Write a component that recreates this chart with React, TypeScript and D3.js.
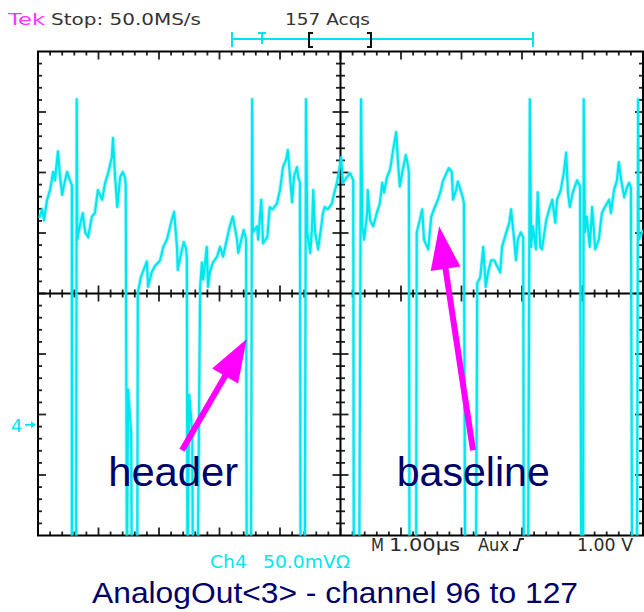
import React from 'react';
import * as d3 from 'd3';

// ---------- data ----------
// Horizontal: 1.00 µs/div, 10 divisions. Vertical: Ch4 50.0 mV/div, 8 divisions.
const timeDivisions = 10;
const voltDivisions = 8;
const mvPerDiv = 50;
const groundDiv = -2.17; // Ch4 ground marker, divisions below screen centre

// Ch4 trace: [time µs from left edge, mV above Ch4 ground]
const tracePoints: [number, number][] = [
  [0.02, 171], [0.07, 178], [0.10, 169], [0.15, 186], [0.20, 194], [0.25, 209], [0.28, 202],
  [0.33, 226], [0.36, 207], [0.40, 190], [0.43, 198], [0.48, 209], [0.53, 202], [0.56, 198],
  [0.56, -120], [0.63, -120], [0.64, 269], [0.65, 153],
  [0.69, 164], [0.74, 175], [0.78, 159], [0.83, 155], [0.89, 172], [0.94, 175], [0.99, 194],
  [1.06, 186], [1.11, 200], [1.16, 208], [1.22, 221], [1.24, 237], [1.27, 208], [1.31, 180],
  [1.36, 205], [1.40, 209], [1.44, 204], [1.45, 197],
  [1.47, -120], [1.49, 29], [1.54, -7], [1.55, -120], [1.64, -120], [1.65, 109],
  [1.70, 122], [1.80, 135], [1.82, 114], [1.88, 126], [1.93, 131], [2.02, 136], [2.07, 147],
  [2.13, 153], [2.17, 161], [2.21, 169], [2.25, 176], [2.30, 145], [2.31, 128], [2.38, 145],
  [2.41, 151], [2.45, 145], [2.46, 136],
  [2.47, -120], [2.50, 25], [2.55, -7], [2.56, -120], [2.64, -120], [2.68, 114],
  [2.71, 134], [2.73, 120], [2.79, 147], [2.81, 114], [2.84, 126], [2.89, 134], [2.96, 139],
  [3.01, 147], [3.06, 139], [3.12, 153], [3.17, 164], [3.22, 172], [3.29, 153], [3.31, 142],
  [3.37, 155], [3.40, 161], [3.44, 153],
  [3.45, -120], [3.52, -120], [3.54, 269], [3.55, 159],
  [3.62, 164], [3.64, 153], [3.69, 186], [3.72, 150], [3.79, 155], [3.83, 180], [3.88, 178],
  [3.95, 183], [4.00, 194], [4.05, 213], [4.10, 219], [4.13, 227], [4.17, 202], [4.20, 184],
  [4.23, 205], [4.28, 213], [4.30, 205], [4.33, 200],
  [4.34, -120], [4.41, -120], [4.43, 269], [4.45, 159],
  [4.50, 142], [4.53, 164], [4.55, 194], [4.58, 159], [4.63, 145], [4.69, 167], [4.71, 175],
  [4.74, 180], [4.79, 178], [4.86, 183], [4.88, 188], [4.94, 200], [4.98, 211], [5.01, 221],
  [5.04, 200], [5.11, 205], [5.16, 208], [5.21, 202],
  [5.22, -120], [5.31, -120], [5.34, 269], [5.36, 164],
  [5.39, 153], [5.44, 175], [5.45, 194], [5.49, 169], [5.54, 164], [5.60, 175], [5.65, 183],
  [5.69, 200], [5.72, 192], [5.77, 205], [5.82, 211], [5.87, 227], [5.92, 242], [5.95, 217],
  [5.98, 197], [6.03, 211], [6.08, 223], [6.12, 213], [6.13, 208],
  [6.14, -120], [6.25, -120], [6.26, 159],
  [6.31, 169], [6.35, 178], [6.38, 153], [6.45, 145], [6.50, 172], [6.56, 180], [6.61, 186],
  [6.66, 194], [6.69, 201], [6.76, 209], [6.79, 212], [6.84, 209], [6.86, 186], [6.91, 194],
  [6.94, 201], [6.99, 193], [7.02, 188], [7.04, 183],
  [7.06, -120], [7.24, -120], [7.26, 117],
  [7.31, 122], [7.36, 147], [7.40, 114], [7.44, 126], [7.49, 136], [7.54, 136], [7.64, 126],
  [7.67, 147], [7.74, 159], [7.79, 167], [7.82, 178], [7.87, 153], [7.90, 136], [7.93, 153],
  [7.98, 159], [8.02, 155],
  [8.03, -120], [8.10, -120], [8.13, 269], [8.15, 147],
  [8.18, 164], [8.23, 145], [8.26, 192], [8.30, 147], [8.33, 145], [8.40, 169], [8.45, 178],
  [8.50, 186], [8.55, 167], [8.58, 186], [8.64, 194], [8.69, 208], [8.73, 225], [8.76, 192],
  [8.79, 180], [8.84, 192], [8.91, 202], [8.96, 197],
  [8.98, -120], [9.01, -120], [9.02, 269], [9.04, 159],
  [9.07, 172], [9.12, 147], [9.16, 180], [9.21, 145], [9.27, 153], [9.32, 175], [9.37, 180],
  [9.44, 186], [9.47, 175], [9.52, 194], [9.57, 202], [9.60, 217], [9.64, 202], [9.69, 188],
  [9.74, 197], [9.77, 200], [9.80, 196],
  [9.82, -120], [9.90, -120], [9.92, 269], [9.93, 153], [10.0, 161],
];

// annotation labels, arrow tail and tip in [µs, mV]
const annotationLabels = ['header', 'baseline'];
const annotationTextAt: [number, number][] = [[1.16, -51], [5.93, -51]];
const annotationTails: [number, number][] = [[2.38, -21], [7.19, -21]];
const annotationTips: [number, number][] = [[3.45, 71], [6.63, 164]];

const headerTexts = ['Tek', 'Stop: 50.0MS/s', '157 Acqs'];
const footerTexts = ['M', '1.00µs', 'Aux', '1.00 V'];
const channelTexts = ['Ch4', '50.0mVΩ'];
const titleText = 'AnalogOut<3> - channel 96 to 127';

// ---------- layout ----------
const W = 644;
const H = 612;
const L = 38, T = 51.5, R = 643, B = 535.5;
const CYAN = '#00e6ef';
const NAVY = '#000068';
const MAGENTA = '#ff00ff';
const TICK = '#222';

export default function App() {
  const x = d3.scaleLinear().domain([0, timeDivisions]).range([L, R]);
  const gy = d3.scaleLinear().domain([-voltDivisions / 2, voltDivisions / 2]).range([B, T]);
  const y = d3.scaleLinear()
    .domain([(-voltDivisions / 2 - groundDiv) * mvPerDiv, (voltDivisions / 2 - groundDiv) * mvPerDiv])
    .range([B, T]);

  const line = d3.line<[number, number]>().x(d => x(d[0])).y(d => y(d[1]));

  const xc = x(timeDivisions / 2);
  const yc = gy(0);

  const ticks: JSX.Element[] = [];
  const xSteps = d3.range(0, timeDivisions * 5 + 1);
  const ySteps = d3.range(0, voltDivisions * 5 + 1);
  xSteps.forEach(i => {
    const px = x(i / 5);
    const major = i % 5 === 0;
    const len = major ? 8 : 4;
    if (i > 0 && i < timeDivisions * 5) {
      ticks.push(<line key={`t${i}`} x1={px} x2={px} y1={T} y2={T + len} />);
      ticks.push(<line key={`b${i}`} x1={px} x2={px} y1={B} y2={B - len} />);
      if (i !== timeDivisions * 5 / 2) {
        const cl = major ? 8 : 4;
        ticks.push(<line key={`ch${i}`} x1={px} x2={px} y1={yc - cl} y2={yc + cl} />);
      }
    }
  });
  ySteps.forEach(j => {
    const py = gy(-voltDivisions / 2 + j / 5);
    const major = j % 5 === 0;
    const len = major ? 8 : 4;
    if (j > 0 && j < voltDivisions * 5) {
      ticks.push(<line key={`l${j}`} x1={L} x2={L + len} y1={py} y2={py} />);
      ticks.push(<line key={`r${j}`} x1={R} x2={R - len} y1={py} y2={py} />);
      if (j !== voltDivisions * 5 / 2) {
        const cl = major ? 8 : 4.5;
        ticks.push(<line key={`cv${j}`} x1={xc - cl} x2={xc + cl} y1={py} y2={py} />);
      }
    }
  });

  const arrows = annotationLabels.map((label, k) => {
    const tx = x(annotationTails[k][0]), ty = y(annotationTails[k][1]);
    const hx = x(annotationTips[k][0]), hy = y(annotationTips[k][1]);
    const len = Math.hypot(hx - tx, hy - ty);
    const ux = (hx - tx) / len, uy = (hy - ty) / len;
    const headLen = 43, half = 15;
    const bx = hx - ux * headLen, by = hy - uy * headLen;
    const nx = -uy, ny = ux;
    const pts = `${hx},${hy} ${bx + nx * half},${by + ny * half} ${bx - nx * half},${by - ny * half}`;
    return (
      <g key={label}>
        <line x1={tx} y1={ty} x2={bx + ux * 2} y2={by + uy * 2} stroke={MAGENTA} strokeWidth={6} />
        <polygon points={pts} fill={MAGENTA} />
      </g>
    );
  });

  const gY = y(0);
  const traceD = line(tracePoints) || '';

  return (
    <svg width={W} height={H} style={{ position: 'absolute', left: 0, top: 0, background: '#fff' }}
      fontFamily="'Liberation Sans', Arial, sans-serif">
      <defs>
        <clipPath id="plotClip">
          <rect x={L} y={T} width={R - L} height={B - T} />
        </clipPath>
      </defs>
      <rect x={0} y={0} width={W} height={H} fill="#fff" />

      {/* header line */}
      <g fontFamily="'DejaVu Sans', sans-serif" fontSize={16}>
        <text x={8} y={25} fill="#ff33ff" textLength={37} lengthAdjust="spacingAndGlyphs">{headerTexts[0]}</text>
        <text x={51} y={25} fill="#333" textLength={150} lengthAdjust="spacingAndGlyphs">{headerTexts[1]}</text>
        <text x={285} y={25} fill="#333" textLength={85} lengthAdjust="spacingAndGlyphs">{headerTexts[2]}</text>
      </g>
      {/* record length bar */}
      <g stroke={CYAN} strokeWidth={2}>
        <line x1={232} x2={533} y1={39} y2={39} />
        <line x1={232} x2={232} y1={32} y2={47} />
        <line x1={533} x2={533} y1={32} y2={47} />
        <line x1={262} x2={262} y1={33} y2={44} />
        <line x1={258} x2={266} y1={33} y2={33} />
      </g>
      <g stroke="#111" strokeWidth={2} fill="none">
        <path d="M313,33 H309 V47 H313" />
        <path d="M367,33 H371 V47 H367" />
      </g>

      {/* graticule */}
      <g stroke={TICK} strokeWidth={1.8}>{ticks}</g>
      <g stroke="#000" strokeWidth={2}>
        <line x1={L} x2={R} y1={yc} y2={yc} />
        <line x1={xc} x2={xc} y1={T} y2={B} />
      </g>
      <rect x={L} y={T} width={R - L} height={B - T} fill="none" stroke="#000" strokeWidth={2} />

      {/* trace (with a faint persistence halo) */}
      <g clipPath="url(#plotClip)">
        <path d={traceD} fill="none" stroke={CYAN} strokeOpacity={0.3} strokeWidth={4} strokeLinejoin="round" />
        <path d={traceD} fill="none" stroke={CYAN} strokeWidth={2.2} strokeLinejoin="round" />
      </g>

      {/* ground marker */}
      <g fill={CYAN} stroke={CYAN}>
        <text x={11} y={gY + 7} fontSize={18} stroke="none" fontFamily="'DejaVu Sans', sans-serif">4</text>
        <line x1={25} x2={32} y1={gY} y2={gY} strokeWidth={2} />
        <polygon points={`${36},${gY} ${31},${gY - 3.5} ${31},${gY + 3.5}`} stroke="none" />
      </g>

      {/* annotations */}
      {arrows}
      {annotationLabels.map((label, k) => (
        <text key={label} x={x(annotationTextAt[k][0])} y={y(annotationTextAt[k][1])} fontSize={40}
          fill={NAVY} textLength={k === 0 ? 130 : 153} lengthAdjust="spacingAndGlyphs">{label}</text>
      ))}

      {/* footer of the scope */}
      <g fontFamily="'DejaVu Sans', sans-serif" fontSize={17} fill="#2a2a2a">
        <text x={371} y={551} textLength={13} lengthAdjust="spacingAndGlyphs">{footerTexts[0]}</text>
        <text x={389} y={551} textLength={71} lengthAdjust="spacingAndGlyphs">{footerTexts[1]}</text>
        <text x={478} y={551} textLength={31} lengthAdjust="spacingAndGlyphs">{footerTexts[2]}</text>
        <text x={577} y={551} textLength={56} lengthAdjust="spacingAndGlyphs">{footerTexts[3]}</text>
      </g>
      <path d="M513,550 H517 L520,539 H524" fill="none" stroke="#2a2a2a" strokeWidth={1.8} />
      <g fontFamily="'DejaVu Sans', sans-serif" fontSize={17} fill={CYAN}>
        <text x={210} y={568} textLength={37} lengthAdjust="spacingAndGlyphs">{channelTexts[0]}</text>
        <text x={263} y={568} textLength={87} lengthAdjust="spacingAndGlyphs">{channelTexts[1]}</text>
      </g>

      {/* title */}
      <text x={92} y={603} fontSize={30} fill={NAVY} textLength={486} lengthAdjust="spacingAndGlyphs">{titleText}</text>
    </svg>
  );
}
